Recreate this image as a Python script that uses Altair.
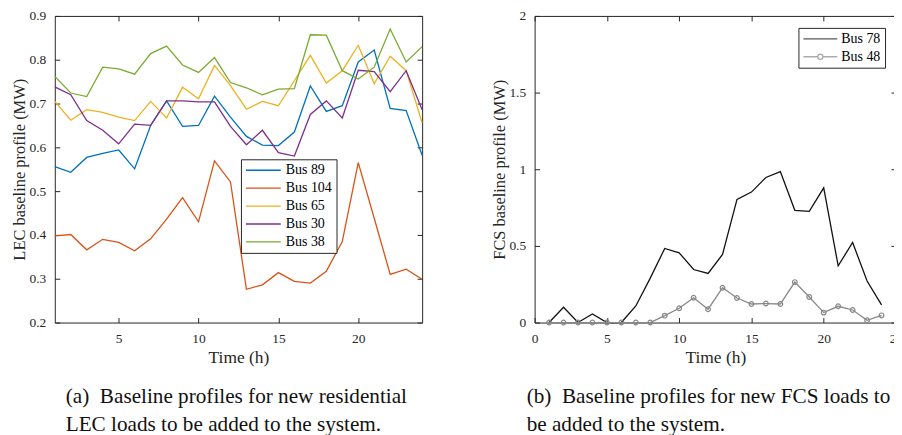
import altair as alt
import pandas as pd

# ---------------- data ----------------
hours = list(range(1, 25))

lec_buses = ["Bus 89", "Bus 104", "Bus 65", "Bus 30", "Bus 38"]
bus89 = [0.556, 0.543, 0.577, 0.586, 0.594, 0.551, 0.650, 0.706, 0.648, 0.650, 0.717, 0.669,
         0.625, 0.605, 0.604, 0.635, 0.740, 0.682, 0.695, 0.795, 0.822, 0.689, 0.684, 0.582]
bus104 = [0.398, 0.401, 0.366, 0.390, 0.383, 0.364, 0.391, 0.436, 0.485, 0.430, 0.569, 0.521,
          0.276, 0.286, 0.314, 0.294, 0.290, 0.317, 0.385, 0.565, 0.438, 0.310, 0.322, 0.299]
bus65 = [0.705, 0.662, 0.686, 0.680, 0.669, 0.661, 0.705, 0.667, 0.737, 0.711, 0.787, 0.741,
         0.687, 0.705, 0.695, 0.752, 0.810, 0.747, 0.775, 0.833, 0.745, 0.808, 0.775, 0.656]
bus30 = [0.738, 0.720, 0.661, 0.639, 0.608, 0.653, 0.650, 0.706, 0.706, 0.704, 0.704, 0.648,
         0.606, 0.639, 0.588, 0.580, 0.675, 0.706, 0.667, 0.776, 0.773, 0.727, 0.775, 0.686]
bus38 = [0.762, 0.724, 0.716, 0.783, 0.779, 0.767, 0.814, 0.831, 0.788, 0.771, 0.805, 0.748,
         0.736, 0.720, 0.733, 0.734, 0.857, 0.856, 0.775, 0.756, 0.783, 0.870, 0.795, 0.830]
lec_colors = ["#0072BD", "#D95319", "#EDB120", "#7E2F8E", "#77AC30"]

fcs_buses = ["Bus 78", "Bus 48"]
bus78 = [0.0, 0.100, 0.0, 0.056, 0.0, 0.0, 0.108, 0.290, 0.483, 0.455, 0.346, 0.320,
         0.444, 0.803, 0.851, 0.946, 0.985, 0.732, 0.725, 0.879, 0.370, 0.522, 0.271, 0.115]
bus48 = [0.0, 0.0, 0.0, 0.0, 0.0, 0.0, 0.0, 0.0, 0.045, 0.093, 0.162, 0.087,
         0.227, 0.160, 0.121, 0.124, 0.121, 0.264, 0.167, 0.065, 0.106, 0.082, 0.015, 0.047]
fcs_colors = ["#111111", "#888888"]
# legend glyphs: plain line, and line with an open circle marker
fcs_legend_shapes = [
    "M-1,0L1,0",
    "M-1,0L-0.15,0M0.15,0L1,0M0.15,0A0.15,0.15,0,1,1,-0.15,0A0.15,0.15,0,1,1,0.15,0",
]

left_x_ticks = [5, 10, 15, 20]
left_y_ticks = [0.2, 0.3, 0.4, 0.5, 0.6, 0.7, 0.8, 0.9]
right_x_ticks = [0, 5, 10, 15, 20, 25]
right_y_ticks = [0, 0.5, 1, 1.5, 2]

caption_a = ["(a)\u2002Baseline profiles for new residential",
             "LEC loads to be added to the system."]
caption_b = ["(b)\u2002Baseline profiles for new FCS loads to",
             "be added to the system."]

# ---------------- tables ----------------
lec_series = [bus89, bus104, bus65, bus30, bus38]
lec_df = pd.DataFrame([
    {"hour": h, "value": v, "bus": b, "order": i}
    for i, (b, s) in enumerate(zip(lec_buses, lec_series))
    for h, v in zip(hours, s)
])
fcs_series = [bus78, bus48]
fcs_df = pd.DataFrame([
    {"hour": h, "value": v, "bus": b}
    for b, s in zip(fcs_buses, fcs_series)
    for h, v in zip(hours, s)
])

FONT = "Liberation Serif"
AX = "#262626"
TICK = 5
W1, W2, H = 369, 363, 308


def main_axis(orient, values, title, fmt, title_size, title_pad):
    return alt.Axis(orient=orient, values=values, title=title, format=fmt,
                    offset=-TICK, tickSize=TICK, tickColor=AX, tickWidth=1,
                    domain=False, grid=False, labelFlush=False,
                    labelFont=FONT, labelFontSize=13.5, labelColor=AX,
                    labelPadding=9, titleFont=FONT, titleFontSize=title_size,
                    titleFontWeight="normal", titleColor=AX, titlePadding=title_pad)


def mirror_axis(orient, values):
    return alt.Axis(orient=orient, values=values, title=None, labels=False,
                    offset=-TICK, tickSize=TICK, tickColor=AX, tickWidth=1,
                    domain=False, grid=False)


def legend(x, y, size, offset, stroke_symbol=True):
    kw = dict(orient="none", legendX=x, legendY=y, title=None,
              symbolSize=size, symbolStrokeWidth=1.3,
              clipHeight=14, labelFont=FONT, labelFontSize=14, labelColor="#000",
              strokeColor=AX, fillColor="white", padding=4,
              rowPadding=4, labelOffset=offset)
    if stroke_symbol:
        kw["symbolType"] = "stroke"
    return alt.Legend(**kw)


# ---------------- left panel ----------------
lx = alt.Scale(domain=[1, 24], nice=False, zero=False)
ly = alt.Scale(domain=[0.2, 0.9], nice=False, zero=False)

left_lines = alt.Chart(lec_df).mark_line(strokeWidth=1.3).encode(
    x=alt.X("hour:Q", scale=lx, axis=main_axis("bottom", left_x_ticks, "Time (h)", "d", 17.5, 4)),
    y=alt.Y("value:Q", scale=ly,
            axis=main_axis("left", left_y_ticks, "LEC baseline profile (MW)", ".1f", 16.5, 2)),
    color=alt.Color("bus:N", scale=alt.Scale(domain=lec_buses, range=lec_colors),
                    legend=legend(187, 144, 1225, 4)),
    order="order:Q",
)
left_frame = alt.Chart(lec_df).mark_line(opacity=0).encode(
    x=alt.X("hour:Q", scale=lx, axis=mirror_axis("top", left_x_ticks)),
    y=alt.Y("value:Q", scale=ly, axis=mirror_axis("right", left_y_ticks)),
)
left = alt.layer(left_lines, left_frame).resolve_axis(x="independent", y="independent").properties(
    width=W1, height=H,
    title=alt.Title(text=caption_a, orient="bottom", anchor="start", frame="group",
                    font=FONT, fontSize=21.3, fontWeight="normal", color="#111",
                    lineHeight=28, offset=20, dx=11),
)

# ---------------- right panel ----------------
rx = alt.Scale(domain=[0, 25], nice=False, zero=False)
ry = alt.Scale(domain=[0, 2], nice=False, zero=False)
fcs_color = alt.Scale(domain=fcs_buses, range=fcs_colors)
R_LEG = legend(265, 12, 1156, 3, stroke_symbol=False)

right_lines = alt.Chart(fcs_df).mark_line(strokeWidth=1.3).encode(
    x=alt.X("hour:Q", scale=rx, axis=main_axis("bottom", right_x_ticks, "Time (h)", "d", 17.5, 4)),
    y=alt.Y("value:Q", scale=ry,
            axis=main_axis("left", right_y_ticks, "FCS baseline profile (MW)", "~g", 16.5, 1)),
    color=alt.Color("bus:N", scale=fcs_color, legend=R_LEG),
)
right_frame = alt.Chart(fcs_df).mark_line(opacity=0).encode(
    x=alt.X("hour:Q", scale=rx, axis=mirror_axis("top", right_x_ticks)),
    y=alt.Y("value:Q", scale=ry, axis=mirror_axis("right", right_y_ticks)),
)
right_points = alt.Chart(fcs_df).transform_filter(alt.datum.bus == "Bus 48").mark_point(
    shape="circle", filled=False, stroke="#888888", strokeWidth=1.2, size=22, opacity=1
).encode(
    x=alt.X("hour:Q", scale=rx, axis=None),
    y=alt.Y("value:Q", scale=ry, axis=None),
)
# empty layer that only supplies legend glyphs (line, and line with marker)
right_legend = alt.Chart(fcs_df).transform_filter("false").mark_point(
    filled=False, strokeWidth=1.3
).encode(
    x=alt.X("hour:Q", scale=rx, axis=None),
    y=alt.Y("value:Q", scale=ry, axis=None),
    color=alt.Color("bus:N", scale=fcs_color, legend=R_LEG),
    shape=alt.Shape("bus:N", scale=alt.Scale(domain=fcs_buses, range=fcs_legend_shapes),
                    legend=R_LEG),
)
right = alt.layer(right_lines, right_frame, right_points, right_legend).resolve_axis(
    x="independent", y="independent").properties(
    width=W2, height=H,
    title=alt.Title(text=caption_b, orient="bottom", anchor="start", frame="group",
                    font=FONT, fontSize=21.3, fontWeight="normal", color="#111",
                    lineHeight=28, offset=20, dx=-8),
)

chart = alt.hconcat(left, right, spacing=65).resolve_scale(
    color="independent", shape="independent"
).configure_view(
    stroke=AX, strokeWidth=1
).configure_axis(
    labelFont=FONT, titleFont=FONT
).configure_legend(
    labelFont=FONT
).properties(padding={"left": 2, "top": -1, "right": -10, "bottom": 0}, background="white")

chart.save("out.html", embed_options={"renderer": "svg", "actions": False})
